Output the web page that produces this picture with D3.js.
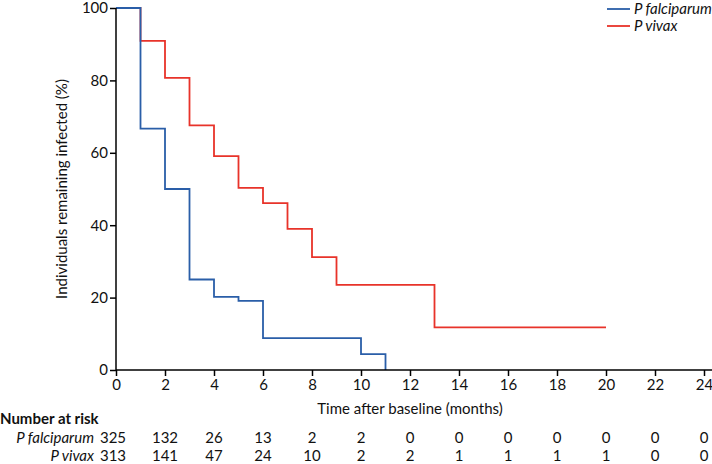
<!DOCTYPE html>
<html><head><meta charset="utf-8">
<script src="https://cdn.jsdelivr.net/npm/d3@7"></script>
<style>
body{margin:0;background:#fff;}
svg{display:block;font-family:Lato,"DejaVu Sans",sans-serif;}
</style></head><body>
<svg id="c" width="712" height="464"></svg>
<script>
const seriesNames = ["P falciparum", "P vivax"];
const colors = ["#2a5ea8", "#e8332a"];
// step points: [time, % remaining]
const falciparum = [[0,100],[1,66.7],[2,50],[3,25],[4,20.2],[5,19.1],[6,8.8],[10,4.4],[11,0]];
const falciparumEnd = 11;
const vivax = [[0,100],[1,90.9],[2,80.7],[3,67.6],[4,59.1],[5,50.3],[6,46.1],[7,39],[8,31.2],[9,23.5],[13,11.8]];
const vivaxEnd = 20;
const xTicks = [0,2,4,6,8,10,12,14,16,18,20,22,24];
const yTicks = [0,20,40,60,80,100];
const riskFalciparum = [325,132,26,13,2,2,0,0,0,0,0,0,0];
const riskVivax = [313,141,47,24,10,2,2,1,1,1,1,0,0];

const FONT = 'Lato,"DejaVu Sans",sans-serif';
const svg = d3.select("#c");
const x = d3.scaleLinear().domain([0,24]).range([116,704]);
const y = d3.scaleLinear().domain([0,100]).range([370,8]);

function stepPath(pts, end){
  const arr = pts.slice();
  arr.push([end, pts[pts.length-1][1]]);
  return d3.line().x(d=>x(d[0])).y(d=>y(d[1])).curve(d3.curveStepAfter)(arr);
}

// curves: vivax under falciparum
svg.append("path").attr("d", stepPath(vivax, vivaxEnd)).attr("fill","none")
  .attr("stroke",colors[1]).attr("stroke-width",1.8);
svg.append("path").attr("d", stepPath(falciparum, falciparumEnd)).attr("fill","none")
  .attr("stroke",colors[0]).attr("stroke-width",1.8);

// axes
const yAxis = svg.append("g").attr("transform","translate(116,0)")
  .call(d3.axisLeft(y).tickValues(yTicks).tickSize(6).tickPadding(2));
const xAxis = svg.append("g").attr("transform","translate(0,370)")
  .call(d3.axisBottom(x).tickValues(xTicks).tickSize(6).tickPadding(3));
xAxis.select(".domain").attr("d","M116,0H712");
yAxis.select(".domain").attr("d","M0,8V370");
[xAxis,yAxis].forEach(a=>{
  a.selectAll(".domain,line").attr("stroke","#000").attr("stroke-width",1.5);
  a.selectAll("text").attr("fill","#111").style("font-size","15px").style("font-family",FONT);
});

// axis titles
svg.append("text").attr("transform","translate(67,189) rotate(-90)")
  .attr("text-anchor","middle").style("font-size","15px").attr("fill","#111")
  .text("Individuals remaining infected (%)");
svg.append("text").attr("x",410).attr("y",414).attr("text-anchor","middle")
  .style("font-size","15px").attr("fill","#111").text("Time after baseline (months)");

// legend
seriesNames.forEach((n,i)=>{
  const ly = 9 + i*17;
  svg.append("line").attr("x1",607).attr("x2",630).attr("y1",ly).attr("y2",ly)
    .attr("stroke",colors[i]).attr("stroke-width",1.8);
  svg.append("text").attr("x",634).attr("y",ly+5).style("font-size","15px")
    .style("font-style","italic").attr("fill","#111").text(n);
});

// number at risk
svg.append("text").attr("x",0).attr("y",424).style("font-size","15px")
  .style("font-weight","bold").attr("fill","#111").text("Number at risk");
[riskFalciparum, riskVivax].forEach((row,i)=>{
  const ry = 443 + i*18;
  svg.append("text").attr("x",94).attr("y",ry).attr("text-anchor","end")
    .style("font-size","15px").style("font-style","italic").attr("fill","#111").text(seriesNames[i]);
  svg.selectAll(null).data(row).enter().append("text")
    .attr("x",(d,j)=>x(xTicks[j]) - (j===0?3:0)).attr("y",ry).attr("text-anchor","middle")
    .style("font-size","15px").attr("fill","#111").text(d=>d);
});
</script>
</body></html>
